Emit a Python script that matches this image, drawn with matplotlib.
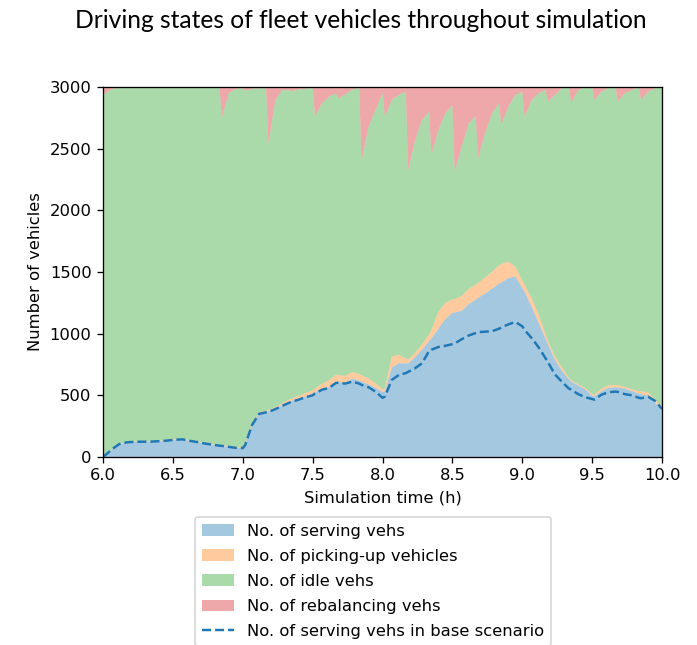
import numpy as np
import matplotlib
matplotlib.use('Agg')
import matplotlib.pyplot as plt

plt.rcParams['font.family'] = ['DejaVu Sans']

# minutes after 6:00 (samples around every 10-min rebalancing step)
minutes = [0, 1, 4, 7, 10, 11, 14, 17, 20, 21, 24, 27, 30, 31, 34, 37, 40, 41, 44, 47,
           50, 51, 54, 57, 60, 61, 64, 67, 70, 71, 74, 77, 80, 81, 84, 87, 90, 91, 94, 97,
           100, 101, 104, 107, 110, 111, 114, 117, 120, 121, 124, 127, 130, 131, 134, 137,
           140, 141, 144, 147, 150, 151, 154, 157, 160, 161, 164, 167, 170, 171, 174, 177,
           180, 181, 184, 187, 190, 191, 194, 197, 200, 201, 204, 207, 210, 211, 214, 217,
           220, 221, 224, 227, 230, 231, 234, 237, 240]

serving = [0, 15, 65, 105, 118, 120, 123, 124, 124, 125, 128, 132, 138, 140, 143, 132, 122, 120, 108, 100,
           92, 90, 82, 74, 72, 100, 270, 355, 366, 370, 392, 420, 447, 455, 472, 490, 510, 525, 552, 565,
           610, 608, 602, 635, 620, 612, 590, 560, 530, 530, 725, 760, 760, 758, 810, 870,
           940, 960, 1040, 1120, 1168, 1172, 1185, 1240, 1275, 1290, 1325, 1365, 1405, 1415, 1450, 1465,
           1370, 1340, 1220, 1090, 960, 915, 790, 700, 630, 612, 580, 550, 495, 492, 535, 562,
           565, 563, 555, 535, 515, 510, 498, 440, 380]

picking_up = [0, 3, 3, 3, 3, 3, 4, 4, 4, 4, 5, 5, 5, 5, 5, 5, 5, 5, 5, 5,
              5, 6, 6, 7, 8, 8, 8, 8, 8, 10, 12, 15, 20, 20, 25, 28, 30, 32, 40, 55,
              58, 57, 55, 54, 52, 50, 48, 35, 20, 27, 90, 68, 40, 30, 35, 45,
              54, 70, 140, 130, 110, 108, 120, 122, 122, 122, 128, 138, 148, 148, 134, 80,
              60, 58, 68, 68, 35, 27, 27, 27, 12, 10, 10, 10, 14, 14, 18, 19,
              19, 19, 15, 13, 20, 22, 27, 27, 25]

rebalancing = [60, 50, 15, 8, 5, 5, 5, 5, 4, 4, 4, 4, 4, 4, 4, 4, 4, 4, 4, 4,
               3, 250, 50, 15, 10, 30, 15, 10, 10, 460, 105, 25, 25, 35, 20, 15, 5, 240, 130, 80,
               50, 92, 60, 20, 10, 605, 320, 186, 51, 240, 105, 65, 38, 673, 430, 267,
               200, 551, 349, 213, 146, 686, 484, 294, 235, 578, 375, 213, 132, 308, 160, 65,
               38, 240, 105, 50, 24, 119, 65, 10, 2, 132, 24, 2, 2, 105, 38, 10,
               2, 119, 51, 24, 2, 105, 38, 10, 2]

serving_base = [0, 15, 65, 105, 118, 120, 123, 124, 124, 125, 128, 132, 138, 140, 143, 132, 122, 120, 108, 100,
                92, 90, 82, 74, 72, 95, 260, 350, 362, 366, 388, 415, 440, 448, 465, 485, 500, 515, 545, 560,
                600, 602, 595, 612, 595, 585, 565, 530, 480, 490, 625, 665, 680, 690, 720, 760,
                860, 870, 892, 902, 915, 920, 955, 985, 1005, 1012, 1016, 1020, 1040, 1050, 1075, 1095,
                1060, 1030, 965, 890, 800, 770, 670, 610, 555, 545, 510, 485, 470, 465, 505, 525,
                530, 528, 510, 500, 480, 476, 489, 455, 390]

fleet_size = 3000

t = 6 + np.array(minutes) / 60.0
idle = fleet_size - np.array(serving) - np.array(picking_up) - np.array(rebalancing)

DPI = 118
fig = plt.figure(figsize=(697 / DPI, 645 / DPI), dpi=DPI)
ax = fig.add_axes([0.1478, 0.2915, 0.802, 0.5736])

ax.stackplot(t, serving, picking_up, idle, rebalancing,
             labels=['No. of serving vehs', 'No. of picking-up vehicles',
                     'No. of idle vehs', 'No. of rebalancing vehs'],
             alpha=0.4)
ax.plot(t, serving_base, '--', color='tab:blue', label='No. of serving vehs in base scenario')

ax.set_xlim(6, 10)
ax.set_ylim(0, 3000)
ax.set_xlabel('Simulation time (h)')
ax.set_ylabel('Number of vehicles')
ax.legend(loc='upper center', bbox_to_anchor=(0.483, -0.14), labelspacing=0.62)

fig.text(0.518, 0.968, 'Driving states of fleet vehicles throughout simulation',
         ha='center', va='center', fontsize=15, family='Lato')

fig.savefig('out.png', dpi=DPI)
